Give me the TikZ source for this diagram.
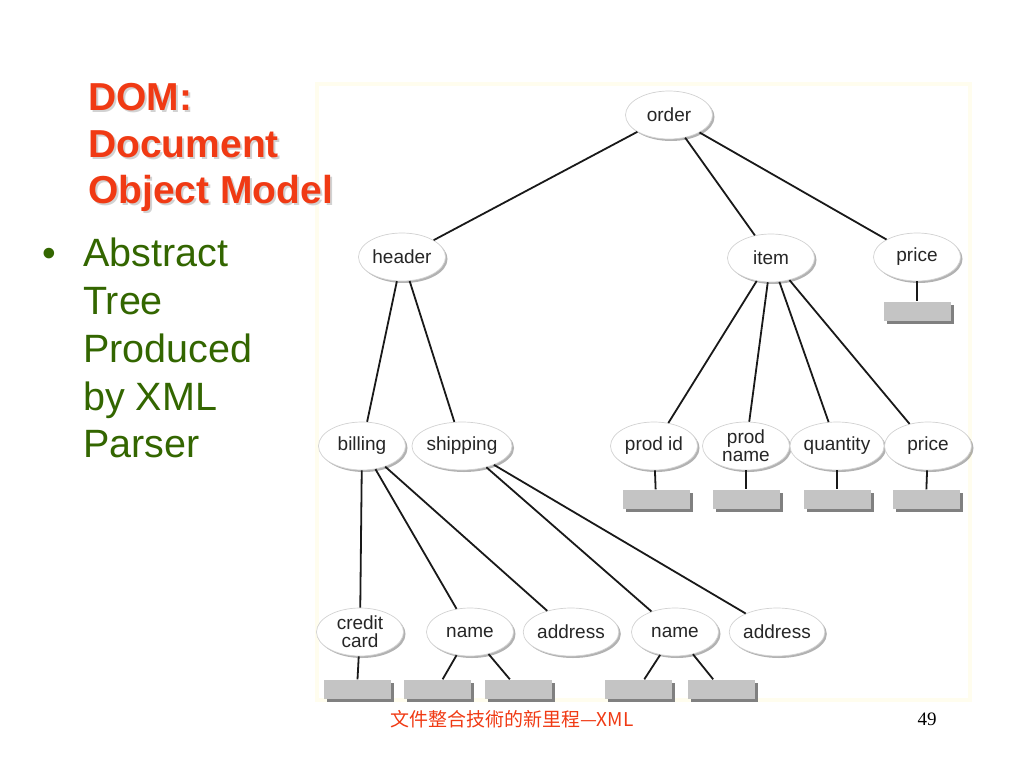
\documentclass[tikz,border=0pt]{standalone}
\usepackage{fontspec}
\setmainfont{Liberation Sans}
\newfontfamily\cjk{Noto Sans CJK TC}
\newfontfamily\numfont{Liberation Serif}
\usetikzlibrary{shapes.geometric,shadows}
\definecolor{titlered}{RGB}{240,58,20}
\definecolor{bodygreen}{RGB}{51,102,0}
\definecolor{boxgray}{RGB}{196,196,196}
\definecolor{framecream}{RGB}{255,253,238}

\begin{document}
\begin{tikzpicture}[x=1pt,y=-1pt,
  elem/.style={ellipse, fill=white, draw=gray!35, line width=0.7pt, minimum width=87, minimum height=48, inner sep=0pt, align=center, font=\fontsize{19}{18}\selectfont, text=black!85, drop shadow={shadow xshift=2pt, shadow yshift=-2pt, fill=black, opacity=0.3}},
  leaf/.style={rectangle, fill=boxgray, minimum width=67, minimum height=19, inner sep=0pt, drop shadow={shadow xshift=3pt, shadow yshift=-3pt, fill=black!50, opacity=1}},
  link/.style={line width=1.8pt, black!90}]
\useasboundingbox (0,0) rectangle (1024,768);
\draw[framecream, line width=4pt] (317,84) rectangle (970,700);

\foreach \t/\yy [count=\i] in {DOM:/110, Document/157, Object Model/203}
{
\node[anchor=base west, inner sep=0pt, text=gray!35, font=\fontsize{39}{46}\selectfont\bfseries] (tshadow\i) at (90,\yy+2) {\t};
\node[anchor=base west, inner sep=0pt, text=titlered, font=\fontsize{39}{46}\selectfont\bfseries] (title\i) at (88,\yy) {\t};
}
\node[anchor=base west, inner sep=0pt, text=bodygreen, font=\fontsize{39}{46}\selectfont] (bullet) at (42,266) {•};
\foreach \t/\yy [count=\i] in {Abstract/266, Tree/314, Produced/362, by XML/410, Parser/457}
\node[anchor=base west, inner sep=0pt, text=bodygreen, font=\fontsize{39.5}{46}\selectfont] (body\i) at (83,\yy) {\t};

\node[elem] (order) at (669,115) {order};
\node[elem] (header) at (402,257) {header};
\node[elem] (item) at (771,258) {item};
\node[elem] (price) at (917,257) {price};
\node[elem] (billing) at (362,446) {billing};
\node[elem] (shipping) at (462,446) {shipping};
\node[elem] (prodid) at (654,446) {prod id};
\node[elem] (prodname) at (746,446) {prod\\name};
\node[elem] (quantity) at (837,446) {quantity};
\node[elem] (itemprice) at (928,446) {price};
\node[elem] (credit) at (360,632) {credit\\card};
\node[elem] (bname) at (470,632) {name};
\node[elem] (baddr) at (571,632) {address};
\node[elem] (sname) at (675,632) {name};
\node[elem] (saddr) at (777,632) {address};

\node[leaf] (pricebox) at (917,311) {};
\foreach \n/\x in {prodid/656, prodname/746, quantity/837, itemprice/926}
\node[leaf] (\n box) at (\x,499) {};
\foreach \n/\x in {credit/357, bnameA/437, bnameB/518, snameA/638, snameB/721}
\node[leaf] (\n box) at (\x,689) {};

\foreach \a/\b in {order/header, order/item, order/price, header/billing, header/shipping,
  item/prodid, item/prodname, item/quantity, item/itemprice,
  billing/credit, billing/bname, billing/baddr, shipping/sname, shipping/saddr,
  price/pricebox, prodid/prodidbox, prodname/prodnamebox, quantity/quantitybox, itemprice/itempricebox,
  credit/creditbox, bname/bnameAbox, bname/bnameBbox, sname/snameAbox, sname/snameBbox}
\draw[link] (\a) -- (\b);

\node[text=titlered, font=\cjk\fontsize{19}{19}\selectfont] (footer) at (512,719) {文件整合技術的新里程—XML};
\node[font=\numfont\fontsize{19}{19}\selectfont] (pagenum) at (927,719) {49};
\end{tikzpicture}
\end{document}
